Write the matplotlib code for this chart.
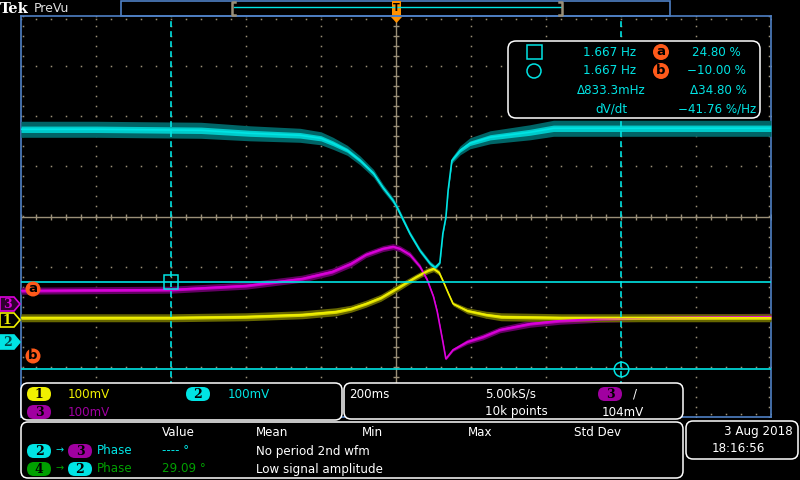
import matplotlib
matplotlib.use('Agg')
import matplotlib.pyplot as plt
import numpy as np
from matplotlib.patches import FancyBboxPatch, Polygon, Circle, Rectangle

# scope settings
ms_per_div = 200
mv_per_div = 100
ch_pos = {1: -2.08, 2: -2.52, 3: -1.76}   # ground markers in divisions from centre
cursor_t = [-600, 600]                    # vertical cursors, ms
cursor_v = [-1.30, -3.04]                 # horizontal cursors, divisions

# channel 1 (yellow) - ms / mV / noise half width mV
ch1_t = [-1000, -800, -600, -400, -250, -160, -120, -80, -40, 10, 55, 85, 100, 115,
         125, 140, 152, 190, 240, 280, 440, 700, 1000]
ch1_mv = [6, 6, 6, 8, 12, 18, 24, 34, 46, 68, 88, 100, 104, 96,
          80, 54, 34, 20, 12, 8, 6, 6, 6]
ch1_noise = [8, 8, 8, 8, 8, 8, 7, 7, 7, 7, 6, 6, 6, 5,
             3, 3, 4, 6, 7, 8, 8, 8, 8]

# channel 2 (cyan)
ch2_t = [-1000, -800, -520, -390, -256, -200, -168, -130, -96, -60, -35, -8, 3, 37,
         64, 91, 104, 117, 125, 133, 139, 149, 171, 197, 251, 357, 420, 680, 1000]
ch2_mv = [426, 426, 424, 418, 414, 408, 398, 384, 364, 338, 310, 284, 270, 218,
          184, 158, 150, 160, 218, 250, 304, 364, 384, 398, 410, 420, 428, 428, 428]
ch2_noise = [16, 16, 16, 15, 14, 13, 12, 10, 9, 8, 7, 6, 6, 5,
             5, 5, 5, 3, 2, 2, 3, 6, 9, 11, 13, 15, 16, 16, 16]

# channel 3 (magenta)
ch3_t = [-1000, -600, -400, -250, -170, -120, -80, -35, -8, 10, 37, 64, 83, 100,
         110, 125, 133, 152, 190, 232, 277, 357, 437, 545, 680, 1000]
ch3_mv = [28, 30, 38, 52, 66, 82, 100, 112, 116, 112, 100, 76, 50, 16,
          -14, -74, -108, -90, -74, -64, -50, -38, -32, -28, -26, -24]
ch3_noise = [7, 7, 7, 7, 7, 7, 6, 6, 6, 6, 6, 5, 4, 3,
             3, 2, 2, 3, 5, 6, 6, 7, 7, 7, 7, 7]

# readouts
cur_freq = ['1.667 Hz', '1.667 Hz', '\u0394833.3mHz', 'dV/dt']
cur_pct = ['24.80 %', '\u221210.00 %', '\u039434.80 %', '\u221241.76 %/Hz']
meas_head = ['Value', 'Mean', 'Min', 'Max', 'Std Dev']
meas_rows = [('---- \u00b0', 'No period 2nd wfm'), ('29.09 \u00b0', 'Low signal amplitude')]
vscale = ['100mV', '100mV', '100mV']
timebase = ['200ms', '5.00kS/s', '10k points', '104mV']
date_txt = ['3 Aug 2018', '18:16:56']

YEL = '#f0f000'
CYA = '#00e4e4'
MAG = '#dc00dc'
PUR = '#a000a0'
GRN = '#00a000'
BLU = '#4f80c4'
GRID = '#9a8f78'
ORG = '#ff9000'
RED = '#ff5a1a'
FS = 8.6

fig = plt.figure(figsize=(8, 4.8), dpi=100, facecolor='black')
ax = fig.add_axes([21 / 800, 63 / 480, 750 / 800, 401 / 480])
ax.set_facecolor('black')
ax.set_xlim(-5 * ms_per_div, 5 * ms_per_div)
ax.set_ylim(-4, 4)
ax.set_xticks([])
ax.set_yticks([])
for s in ax.spines.values():
    s.set_color(BLU)
    s.set_linewidth(1.2)

# graticule
minor_t = np.arange(-1000, 1001, ms_per_div / 5)
minor_v = np.arange(-4, 4.01, 0.2)
for gx in np.arange(-800, 801, 200):
    if gx != 0:
        ax.plot(np.full_like(minor_v, gx), minor_v, ls='none', marker='s', ms=1.1, mew=0, color=GRID)
for gy in range(-3, 4):
    if gy != 0:
        ax.plot(minor_t, np.full(len(minor_t), float(gy)), ls='none', marker='s', ms=1.1, mew=0, color=GRID)
ax.axhline(0, color=GRID, lw=1)
ax.axvline(0, color=GRID, lw=1)
ax.plot(minor_t, np.zeros(len(minor_t)), ls='none', marker='|', ms=4, mew=1, color=GRID)
ax.plot(np.zeros(len(minor_v)), minor_v, ls='none', marker='_', ms=4.5, mew=1, color=GRID)
# border stubs
ax.plot(np.full(len(minor_v), -995.0), minor_v, ls='none', marker='s', ms=1.1, mew=0, color=GRID)
ax.plot(np.full(len(minor_v), 995.0), minor_v, ls='none', marker='s', ms=1.1, mew=0, color=GRID)
ax.plot(minor_t, np.full(len(minor_t), 3.95), ls='none', marker='s', ms=1.1, mew=0, color=GRID)
ax.plot(minor_t, np.full(len(minor_t), -3.95), ls='none', marker='s', ms=1.1, mew=0, color=GRID)


def trace(t, mv, noise, pos, bright, dim):
    t = np.array(t, dtype=float)
    y = pos + np.array(mv) / mv_per_div
    n = np.array(noise) / mv_per_div
    ax.fill_between(t, y - n, y + n, color=dim, lw=0, zorder=3)
    ax.fill_between(t, y - 0.4 * n, y + 0.4 * n, color=bright, alpha=0.8, lw=0, zorder=4)
    ax.plot(t, y, color=bright, lw=1.2, zorder=5)


trace(ch2_t, ch2_mv, ch2_noise, ch_pos[2], CYA, '#006466')
trace(ch3_t, ch3_mv, ch3_noise, ch_pos[3], MAG, '#620062')
trace(ch1_t, ch1_mv, ch1_noise, ch_pos[1], YEL, '#666600')

# cursors
for ct in cursor_t:
    ax.axvline(ct, color=CYA, lw=1.2, dashes=(3.5, 2.5), zorder=6)
for cv in cursor_v:
    ax.axhline(cv, color=CYA, lw=1.2, zorder=6)
ax.plot(cursor_t[0], cursor_v[0], marker='s', ms=10.5, mfc='none', mec=CYA, mew=1.1, zorder=7)
ax.plot(cursor_t[1], cursor_v[1], marker='o', ms=10.5, mfc='none', mec=CYA, mew=1.1, zorder=7)

# overlay in screen pixels
ov = fig.add_axes([0, 0, 1, 1])
ov.set_xlim(0, 800)
ov.set_ylim(480, 0)
ov.axis('off')
ov.patch.set_alpha(0)


def txt(x, y, s, color='white', ha='left', size=FS, **kw):
    ov.text(x, y, s, color=color, ha=ha, va='center', fontsize=size, family='DejaVu Sans', **kw)


def box(x, y, w, h, r=7):
    ov.add_patch(FancyBboxPatch((x, y), w, h, boxstyle=f'round,pad=0,rounding_size={r}',
                                fc='black', ec='white', lw=1.1))


def pill(x, y, num, fc, tc='black', w=24, h=14):
    ov.add_patch(FancyBboxPatch((x - w / 2, y - h / 2), w, h, boxstyle=f'round,pad=0,rounding_size={h / 2}',
                                fc=fc, ec='none'))
    ov.text(x, y + 0.5, num, color=tc, ha='center', va='center', fontsize=9,
            family='DejaVu Serif', weight='bold')


def badge(x, y, letter, r=7.5):
    ov.add_patch(Circle((x, y), r, fc=RED, ec='none'))
    ov.text(x, y - 0.5, letter, color='black', ha='center', va='center', fontsize=9.5,
            family='DejaVu Sans', weight='bold')


# top bar
ov.text(0, 9, 'Tek', color='white', ha='left', va='center', fontsize=10.5,
        family='DejaVu Serif', weight='bold')
txt(34, 8.5, 'PreVu', color='#e0e0e0', size=9)
ov.add_patch(Rectangle((121, 0.8), 549, 15, fc='none', ec=BLU, lw=1.2))
ov.plot([234, 561], [7, 7], color=CYA, lw=1)
ov.plot([235, 232, 232, 235], [1.5, 1.5, 14.5, 14.5], color=GRID, lw=1.8)
ov.plot([559, 562, 562, 559], [1.5, 1.5, 14.5, 14.5], color=GRID, lw=1.8)
ov.add_patch(Rectangle((392, 1), 9, 14, fc=ORG, ec='none'))
ov.text(396.5, 8, 'T', color='black', ha='center', va='center', fontsize=7, family='DejaVu Sans', weight='bold')
ov.add_patch(Polygon([(391, 17), (402, 17), (396.5, 23)], closed=True, fc=ORG, ec='none'))

# channel ground tags on the left
for ch, edge, face, tc in [(3, MAG, '#300030', MAG), (1, YEL, 'black', YEL), (2, CYA, CYA, '#004848')]:
    y = 216 - ch_pos[ch] * 50
    ov.add_patch(Polygon([(0, y - 7), (14, y - 7), (20, y), (14, y + 7), (0, y + 7)], closed=True,
                         fc=face, ec=edge, lw=1.2))
    ov.text(7, y + 0.5, str(ch), color=tc, ha='center', va='center', fontsize=9,
            family='DejaVu Serif', weight='bold')

# cursor level badges
badge(33, 289, 'a')
badge(33, 356, 'b')

# cursor readout box
box(508, 41, 252, 77, r=8)
ov.add_patch(Rectangle((527, 45), 15, 14, fc='none', ec=CYA, lw=1.1))
ov.add_patch(Circle((534, 71), 7, fc='none', ec=CYA, lw=1.1))
rows_y = [52, 71, 90, 109]
freq_x = [636, 636, 646, 627]
pct_x = [741, 746, 747, 756]
for i in range(4):
    txt(freq_x[i], rows_y[i], cur_freq[i], color=CYA, ha='right')
    txt(pct_x[i], rows_y[i], cur_pct[i], color=CYA, ha='right')
badge(661, 52, 'a', r=8)
badge(661, 71, 'b', r=8)

# vertical scale box
box(21, 383, 321, 37)
pill(39, 394, '1', YEL)
txt(68, 394, vscale[0], color=YEL)
pill(198, 394, '2', CYA)
txt(228, 394, vscale[1], color=CYA)
pill(39, 412, '3', PUR)
txt(68, 412, vscale[2], color=PUR)

# horizontal / trigger box
box(344, 383, 339, 36)
txt(349, 394, timebase[0])
txt(485, 394, timebase[1])
txt(485, 412, timebase[2])
pill(610, 394, '3', PUR)
txt(633, 394, '/')
txt(602, 412, timebase[3])

# measurement box
box(21, 422, 662, 56)
for s, x in zip(meas_head, [162, 256, 362, 468, 574]):
    txt(x, 433, s)
pill(39, 451, '2', CYA)
txt(60, 450, '\u2192', color=CYA, ha='center', size=7)
pill(80, 451, '3', PUR)
txt(97, 451, 'Phase', color=CYA)
txt(162, 451, meas_rows[0][0], color=CYA)
txt(256, 451, meas_rows[0][1])
pill(39, 469, '4', GRN)
txt(60, 468, '\u2192', color=GRN, ha='center', size=7)
pill(80, 469, '2', CYA)
txt(97, 469, 'Phase', color=GRN)
txt(162, 469, meas_rows[1][0], color=GRN)
txt(256, 469, meas_rows[1][1])

# date box
box(686, 421, 112, 38)
txt(793, 431, date_txt[0], ha='right')
txt(712, 449, date_txt[1])

fig.savefig('out.png', dpi=100, facecolor='black')
